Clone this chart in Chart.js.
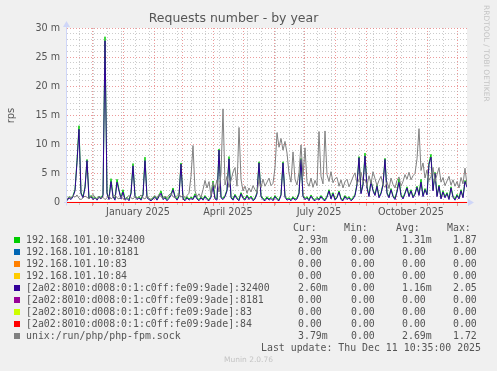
<!DOCTYPE html>
<html>
<head>
<meta charset="utf-8">
<script src="https://cdn.jsdelivr.net/npm/chart.js@4.4.1/dist/chart.umd.min.js"></script>
<style>
  body { margin: 0; background: #f0f0f0; width: 497px; height: 371px; overflow: hidden; position: relative; }
  #chart { position: absolute; left: 0; top: 0; }
  .txt { position: absolute; white-space: pre; font-family: "DejaVu Sans Mono"; font-size: 9.9px; line-height: 12px; color: #555; }
  .sq { position: absolute; width: 6px; height: 6px; }
  #rrd { position: absolute; left: 482px; top: 5px; writing-mode: vertical-rl; font-family: "DejaVu Sans"; font-size: 7.5px; color: #c4c4c4; white-space: pre; }
  #ver { position: absolute; left: 0; width: 497px; top: 355px; text-align: center; font-family: "DejaVu Sans"; font-size: 7.5px; color: #c4c4c4; }
</style>
</head>
<body>
<canvas id="chart" width="497" height="371"></canvas>
<div id="legend"></div>
<div id="rrd">RRDTOOL / TOBI OETIKER</div>
<div id="ver">Munin 2.0.76</div>
<script>
// values in m (milli requests/s), one point every 2 days starting 2024-11-06
const dayStep = 2;
const rangeDays = 400;

const v4Port32400 = [
  0.4,1.0,0.7,1.2,2.2,7.2,13.2,1.7,1.0,2.7,
  7.4,0.8,1.2,0.7,1.0,0.6,1.1,0.8,1.4,28.5,
  1.7,0.7,4.1,1.2,0.6,4.0,2.2,0.8,2.2,0.6,
  0.9,0.5,1.7,6.7,1.2,0.7,1.0,0.6,1.4,7.8,
  1.0,0.7,0.5,0.8,1.1,0.6,1.2,2.0,0.7,1.0,
  0.5,0.9,1.4,2.5,1.1,0.6,1.2,6.8,0.8,0.5,
  1.0,0.6,0.9,0.7,1.5,0.8,0.5,1.0,0.6,1.2,
  0.7,0.5,1.1,3.7,0.8,0.6,9.2,1.0,0.7,1.2,
  2.2,7.9,1.0,0.6,1.4,0.8,0.5,1.7,0.9,0.6,
  1.3,0.7,1.1,0.5,0.8,1.7,7.0,1.2,0.7,0.5,
  1.0,0.6,0.9,0.5,1.2,0.7,0.5,1.4,7.0,1.1,
  0.6,0.8,0.5,1.0,0.6,0.8,1.7,7.6,1.2,0.7,
  1.0,0.5,1.3,0.7,0.5,0.9,0.6,1.2,0.7,0.5,
  1.1,2.2,0.8,1.7,0.6,1.0,2.0,0.7,0.5,1.2,
  0.7,1.0,0.5,0.8,1.4,3.2,7.9,1.7,3.2,8.5,
  2.7,1.2,3.8,2.2,1.4,3.0,1.0,1.7,3.2,7.6,
  1.7,1.0,2.4,1.2,0.7,2.0,4.1,1.4,0.8,1.7,
  2.7,1.2,2.2,1.0,1.6,2.8,1.4,4.0,1.2,2.4,
  1.5,6.8,8.3,2.2,5.2,1.2,3.0,0.8,2.0,1.0,
  1.7,0.7,2.7,1.1,0.6,1.4,0.8,2.2,1.0,3.8,2.9
];

const v6Port32400 = [
  0.3,0.8,0.5,1.0,2.0,6.9,12.6,1.5,0.8,2.5,
  7.2,0.6,1.0,0.5,0.8,0.4,0.9,0.6,1.2,27.8,
  1.5,0.5,3.6,1.0,0.4,3.5,2.0,0.6,1.8,0.4,
  0.7,0.3,1.5,6.3,1.0,0.5,0.8,0.4,1.2,7.2,
  0.8,0.5,0.3,0.6,0.9,0.4,1.0,1.6,0.5,0.8,
  0.3,0.7,1.2,2.2,0.9,0.4,1.0,6.6,0.6,0.3,
  0.8,0.4,0.7,0.5,1.2,0.6,0.3,0.8,0.4,1.0,
  0.5,0.3,0.9,2.8,0.6,0.4,9.0,0.8,0.5,1.0,
  2.0,7.5,0.8,0.4,1.2,0.6,0.3,1.5,0.7,0.4,
  1.1,0.5,0.9,0.3,0.6,1.5,6.8,1.0,0.5,0.3,
  0.8,0.4,0.7,0.3,1.0,0.5,0.3,1.2,6.8,0.9,
  0.4,0.6,0.3,0.8,0.4,0.6,1.5,7.4,1.0,0.5,
  0.8,0.3,1.1,0.5,0.3,0.7,0.4,1.0,0.5,0.3,
  0.9,2.0,0.6,1.5,0.4,0.8,1.8,0.5,0.3,1.0,
  0.5,0.8,0.3,0.6,1.2,3.0,7.7,1.5,3.0,8.0,
  2.5,1.0,3.6,2.0,1.2,2.8,0.8,1.5,3.0,7.4,
  1.5,0.8,2.2,1.0,0.5,1.8,3.5,1.2,0.6,1.5,
  2.5,1.0,2.0,0.8,1.4,2.6,1.2,3.5,1.0,2.2,
  1.3,6.6,7.8,2.0,5.0,1.0,2.8,0.6,1.8,0.8,
  1.5,0.5,2.5,0.9,0.4,1.2,0.6,2.0,0.8,3.6,2.6
];

const phpFpmSock = [
  0.6,1.0,0.8,1.2,0.9,1.3,0.7,0.5,0.8,1.1,
  0.9,0.6,1.0,1.4,0.8,0.6,1.1,0.7,0.9,0.5,
  0.8,1.2,0.6,0.9,1.3,0.8,0.6,1.0,0.7,0.5,
  0.9,1.2,0.8,0.6,1.0,0.7,0.9,1.3,0.8,0.6,
  1.1,0.7,0.5,0.9,1.2,0.8,1.4,1.0,0.7,1.1,
  0.8,1.3,1.6,1.0,0.8,1.2,1.5,0.9,1.3,0.8,
  1.2,1.6,4.5,9.8,2.0,1.0,1.5,0.9,2.2,3.8,
  2.5,3.6,1.2,3.5,2.4,3.9,1.8,5.0,16.1,3.0,
  4.5,2.6,3.8,5.2,6.0,2.8,12.9,4.0,2.0,2.8,
  1.6,2.5,1.8,2.9,2.2,1.7,3.9,2.6,4.0,2.8,
  3.5,4.2,2.9,3.3,6.0,12.0,9.5,11.0,9.0,10.5,
  8.5,5.0,3.5,8.7,4.0,3.0,5.2,9.9,4.5,9.4,
  3.5,2.8,4.2,2.6,3.8,2.9,12.2,4.5,3.2,12.3,
  4.8,3.6,5.3,3.4,4.1,4.3,2.8,3.9,2.5,3.6,
  4.0,2.7,3.5,4.4,5.1,3.2,3.9,5.2,3.5,4.0,
  2.9,4.6,3.2,5.3,4.1,2.9,3.8,4.5,3.0,2.6,
  3.5,2.4,4.2,3.1,2.5,3.8,4.4,2.8,3.6,4.8,
  4.0,5.2,3.9,4.6,5.0,7.5,12.7,5.5,6.8,4.2,
  5.6,3.8,4.5,6.0,3.6,4.8,6.0,3.5,4.3,2.9,
  3.7,4.5,3.0,3.9,2.8,3.6,2.5,4.3,3.2,5.9,3.0
];

// the idle ports stay at 0 for the whole year
const idleDays = [0, 400];
const idleValues = [0, 0];

const seriesLabels = [
  "192.168.101.10:32400",
  "192.168.101.10:8181",
  "192.168.101.10:83",
  "192.168.101.10:84",
  "[2a02:8010:d008:0:1:c0ff:fe09:9ade]:32400",
  "[2a02:8010:d008:0:1:c0ff:fe09:9ade]:8181",
  "[2a02:8010:d008:0:1:c0ff:fe09:9ade]:83",
  "[2a02:8010:d008:0:1:c0ff:fe09:9ade]:84",
  "unix:/run/php/php-fpm.sock"
];
const seriesColors = ["#00cc00", "#0066b3", "#ff8000", "#ffcc00", "#330099", "#990099", "#ccff00", "#ff0000", "#808080"];
const curText = ["2.93m", "0.00", "0.00", "0.00", "2.60m", "0.00", "0.00", "0.00", "3.79m"];
const minText = ["0.00", "0.00", "0.00", "0.00", "0.00", "0.00", "0.00", "0.00", "0.00"];
const avgText = ["1.31m", "0.00", "0.00", "0.00", "1.16m", "0.00", "0.00", "0.00", "2.69m"];
const maxText = ["1.87", "0.00", "0.00", "0.00", "2.05", "0.00", "0.00", "0.00", "1.72"];

const monthLabels = ["January 2025", "April 2025", "July 2025", "October 2025"];
const yTicks = [];
for (let v = 0; v <= 30; v++) yTicks.push(v);
const yMajorStep = 5;

// day offsets from the start of the graph
const startUTC = Date.UTC(2024, 10, 6);
const dayOf = (y, m, d) => (Date.UTC(y, m, d) - startUTC) / 864e5;

const monthStarts = [];
for (let k = 0; k < 13; k++) monthStarts.push(dayOf(2024, 11 + k, 1));
const labelDays = [0, 3, 6, 9].map((m) => dayOf(2025, m, 1) + 15);
// minor grid every two weeks (rrdtool year view), skipping month lines
const biWeekDays = [];
for (let d = dayOf(2024, 10, 4); d <= rangeDays; d += 14) {
  if (d > 0 && !monthStarts.includes(d)) biWeekDays.push(d);
}

const toPoints = (vals) => vals.map((v, i) => ({ x: i * dayStep, y: v }));
const idlePoints = idleDays.map((d, i) => ({ x: d, y: idleValues[i] }));

const seriesData = [
  toPoints(v4Port32400), idlePoints, idlePoints, idlePoints,
  toPoints(v6Port32400), idlePoints, idlePoints, idlePoints,
  toPoints(phpFpmSock)
];

const gridRed = "rgba(230,120,120,0.75)";
const gridGray = "rgba(170,170,170,0.6)";
const textColor = "#555";

const muninFrame = {
  id: "muninFrame",
  beforeDraw(chart) {
    const { ctx, chartArea: a } = chart;
    ctx.save();
    ctx.fillStyle = "#ffffff";
    ctx.fillRect(a.left, a.top, a.right - a.left, a.bottom - a.top);
    ctx.restore();
  },
  beforeDatasetsDraw(chart) {
    const { ctx, chartArea: a } = chart;
    const x0 = a.left - 0.5;
    const y0 = Math.round(chart.scales.y.getPixelForValue(0) - 0.5) + 0.5;
    ctx.save();
    ctx.strokeStyle = "#cfd6f8";
    ctx.fillStyle = "#cfd6f8";
    ctx.lineWidth = 1;
    ctx.beginPath();
    ctx.moveTo(x0, y0 + 3);
    ctx.lineTo(x0, a.top - 2);
    ctx.moveTo(a.left - 3, y0);
    ctx.lineTo(a.right + 2, y0);
    ctx.stroke();
    // arrow heads
    ctx.beginPath();
    ctx.moveTo(x0, a.top - 7);
    ctx.lineTo(x0 - 3.5, a.top - 1);
    ctx.lineTo(x0 + 3.5, a.top - 1);
    ctx.closePath();
    ctx.fill();
    ctx.beginPath();
    ctx.moveTo(a.right + 7, y0);
    ctx.lineTo(a.right + 1, y0 - 3.5);
    ctx.lineTo(a.right + 1, y0 + 3.5);
    ctx.closePath();
    ctx.fill();
    ctx.restore();
  }
};

const fixedTicks = (list) => (scale) => { scale.ticks = list.map((v) => ({ value: v })); };

new Chart(document.getElementById("chart"), {
  type: "line",
  data: {
    datasets: seriesLabels.map((label, i) => ({
      label,
      data: seriesData[i],
      borderColor: seriesColors[i],
      backgroundColor: seriesColors[i],
      borderWidth: 1,
      pointRadius: 0,
      tension: 0,
      fill: false,
      order: seriesLabels.length - 1 - i
    }))
  },
  options: {
    responsive: false,
    animation: false,
    devicePixelRatio: 1,
    layout: { padding: { left: 0, right: 30, top: 0, bottom: 148 } },
    plugins: {
      legend: { display: false },
      tooltip: { enabled: false },
      title: {
        display: true,
        text: "Requests number - by year",
        color: textColor,
        font: { family: "DejaVu Sans", size: 12.5, weight: "normal" },
        padding: { top: 11, bottom: 2 }
      }
    },
    scales: {
      x: {
        type: "linear",
        min: 0,
        max: rangeDays,
        afterBuildTicks: fixedTicks(biWeekDays),
        afterFit: (s) => { s.height = 0; },
        ticks: { display: false, autoSkip: false },
        grid: { color: gridGray, drawTicks: true, tickLength: 2, tickBorderDash: [] },
        border: { display: false, dash: [1, 2] }
      },
      xMonth: {
        type: "linear",
        position: "bottom",
        min: 0,
        max: rangeDays,
        afterBuildTicks: fixedTicks(monthStarts),
        afterFit: (s) => { s.height = 0; },
        ticks: { display: false, autoSkip: false },
        grid: { color: gridRed, drawTicks: true, tickLength: 3, tickBorderDash: [] },
        border: { display: false, dash: [1, 2] }
      },
      xLabel: {
        type: "linear",
        position: "bottom",
        min: 0,
        max: rangeDays,
        afterBuildTicks: fixedTicks(labelDays),
        afterFit: (s) => { s.height = 20; },
        ticks: {
          autoSkip: false,
          maxRotation: 0,
          padding: 4,
          color: textColor,
          font: { family: "DejaVu Sans", size: 9.6 },
          callback: (v, i) => monthLabels[i]
        },
        grid: { display: false, drawTicks: false },
        border: { display: false }
      },
      y: {
        // slight negative minimum puts the zero line on a whole pixel row
        min: -0.086,
        max: 30,
        afterBuildTicks: fixedTicks(yTicks),
        afterFit: (s) => { s.width = 67; },
        ticks: {
          autoSkip: false,
          padding: 7,
          color: textColor,
          font: { family: "DejaVu Sans", size: 9.6 },
          callback: (v) => (v % yMajorStep === 0 ? (v === 0 ? "0" : v + " m") : "")
        },
        grid: {
          color: (c) => (c.tick && c.tick.value % yMajorStep === 0 ? gridRed : gridGray),
          drawTicks: false
        },
        border: { display: false, dash: [1, 2] },
        title: {
          display: true,
          text: "rps",
          color: textColor,
          font: { family: "DejaVu Sans", size: 10 },
          padding: { top: 5, bottom: 0 }
        }
      }
    }
  },
  plugins: [muninFrame]
});

// legend block under the graph
const legend = document.getElementById("legend");
const addText = (text, left, centerY) => {
  const el = document.createElement("div");
  el.className = "txt";
  el.textContent = text;
  el.style.left = left + "px";
  el.style.top = (centerY - 6) + "px";
  legend.appendChild(el);
};
addText("Cur:", 293, 227.7);
addText("Min:", 344, 227.7);
addText("Avg:", 396, 227.7);
addText("Max:", 447, 227.7);
seriesLabels.forEach((label, i) => {
  const cy = 240 + i * 11.95;
  const sq = document.createElement("div");
  sq.className = "sq";
  sq.style.left = "14px";
  sq.style.top = (cy - 3) + "px";
  sq.style.background = seriesColors[i];
  legend.appendChild(sq);
  addText(label, 26, cy);
  addText(curText[i], 298, cy);
  addText(minText[i], 351, cy);
  addText(avgText[i], 402, cy);
  addText(maxText[i], 453, cy);
});
addText("Last update: Thu Dec 11 10:35:00 2025", 261, 347.7);
</script>
</body>
</html>
